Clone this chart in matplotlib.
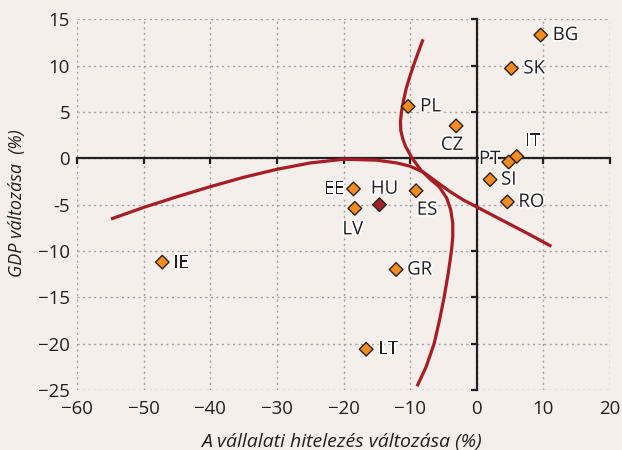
import matplotlib
matplotlib.use("Agg")
import matplotlib.pyplot as plt
import matplotlib.patheffects as pe

plt.rcParams['font.family'] = ['Open Sans', 'DejaVu Sans']

# country points: corporate lending change (%) vs GDP change (%)
countries = ['BG', 'SK', 'PL', 'CZ', 'IT', 'PT', 'SI', 'RO', 'EE', 'HU', 'LV', 'ES', 'IE', 'GR', 'LT']
credit = [9.6, 5.2, -10.3, -3.1, 6.0, 4.8, 2.0, 4.6, -18.5, -14.6, -18.3, -9.1, -47.2, -12.1, -16.6]
gdp = [13.3, 9.7, 5.6, 3.5, 0.2, -0.4, -2.3, -4.7, -3.3, -5.0, -5.4, -3.5, -11.2, -12.0, -20.6]

# the two red curves
curve_a_x = [-54.9, -50, -45, -40, -35, -30, -25, -20, -15, -12, -10, -8, -6, -4, -2, 0, 4, 8, 11.2]
curve_a_y = [-6.55, -5.3, -4.15, -3.06, -2.05, -1.19, -0.5, -0.1, -0.2, -0.5, -0.85, -1.5, -2.55, -3.6, -4.5, -5.25, -6.75, -8.25, -9.5]
curve_b_x = [-8.06, -8.8, -9.5, -10.1, -10.6, -11.0, -11.3, -11.45, -11.4, -11.1, -10.7, -9.7, -8.3, -6.9,
             -5.6, -4.5, -3.9, -3.6, -3.6, -3.8, -4.3, -4.9, -5.6, -6.4, -7.6, -8.96]
curve_b_y = [12.84, 11.4, 10, 8.7, 7.5, 6.2, 5, 4.0, 3, 2.1, 1.3, 0.0, -1.35, -2.3,
             -3.1, -4.3, -5.6, -7.0, -8.5, -10, -12.5, -15, -17.5, -20, -22.5, -24.6]

xticks = [-60, -50, -40, -30, -20, -10, 0, 10, 20]
xtick_labels = ['−60', '−50', '−40', '−30', '−20', '−10', '0', '10', '20']
yticks = [15, 10, 5, 0, -5, -10, -15, -20, -25]
ytick_labels = ['15', '10', '5', '0', '-5', '−10', '−15', '−20', '−25']

bg = '#f5efec'
dark = '#231f20'
red = '#a81c24'
orange = '#f68b1f'

# label offsets in pixels: (dx, dy, ha)
label_pos = {
    'BG': (12, 0, 'left'), 'SK': (12, 0, 'left'), 'PL': (12, 0, 'left'),
    'CZ': (-4, -19, 'center'), 'IT': (16, 15, 'center'), 'PT': (-19, 3, 'center'),
    'SI': (11, 0, 'left'), 'RO': (11, 0, 'left'), 'EE': (-9, 0, 'right'),
    'HU': (5, 16, 'center'), 'LV': (-2, -21, 'center'), 'ES': (11, -19, 'center'),
    'IE': (11, -1, 'left'), 'GR': (11, 0, 'left'), 'LT': (12, 0, 'left'),
}

fig = plt.figure(figsize=(6.22, 4.5), dpi=100, facecolor=bg)
ax = fig.add_axes([77 / 622, 1 - 390 / 450, (610 - 77) / 622, (390 - 19.3) / 450])
ax.set_facecolor(bg)
ax.set_xlim(-60, 20)
ax.set_ylim(-25, 15)

ax.grid(True, color='#a0a0a0', linestyle=(0, (1.5, 2.5)), linewidth=1.0, zorder=0)
ax.set_axisbelow(True)

for s in ['top', 'right']:
    ax.spines[s].set_visible(False)
ax.spines['left'].set_position(('data', 0))
ax.spines['bottom'].set_position(('data', 0))
for s in ['left', 'bottom']:
    ax.spines[s].set_color(dark)
    ax.spines[s].set_linewidth(1.6)
    ax.spines[s].set_zorder(2)
ax.set_xticks(xticks)
ax.set_yticks(yticks)
ax.tick_params(direction='out', length=4, width=1.6, color=dark,
               labelbottom=False, labelleft=False)

secx = ax.secondary_xaxis('bottom')
secx.set_xticks(xticks, xtick_labels)
secx.tick_params(length=0, pad=7, labelsize=13.4, labelcolor=dark)
secx.spines['bottom'].set_visible(False)

secy = ax.secondary_yaxis('left')
secy.set_yticks(yticks, ytick_labels)
secy.tick_params(length=0, pad=5, labelsize=13.4, labelcolor=dark)
secy.spines['left'].set_visible(False)

ax.plot(curve_a_x, curve_a_y, color=red, lw=2.3, solid_capstyle='butt',
        solid_joinstyle='round', zorder=3)
ax.plot(curve_b_x, curve_b_y, color=red, lw=2.3, solid_capstyle='butt',
        solid_joinstyle='round', zorder=3)

colors = ['#a3232b' if c == 'HU' else orange for c in countries]
ax.scatter(credit, gdp, marker='D', s=48, c=colors, edgecolors='#2b2118',
           linewidths=1.0, zorder=4)

for c, x, y in zip(countries, credit, gdp):
    dx, dy, ha = label_pos[c]
    ax.annotate(c, (x, y), xytext=(dx, dy), textcoords='offset pixels',
                ha=ha, va='center', fontsize=13.4, color=dark, zorder=5,
                path_effects=[pe.withStroke(linewidth=2.5, foreground='white')])

fig.text(341 / 622, 1 - 441.7 / 450, 'A vállalati hitelezés változása (%)',
         ha='center', va='center', style='italic', fontsize=14, color=dark)
fig.text(17.5 / 622, 1 - 203 / 450, 'GDP változása  (%)', rotation=90,
         ha='center', va='center', style='italic', fontsize=13, color=dark)

fig.savefig('out.png', dpi=100, facecolor=bg)
